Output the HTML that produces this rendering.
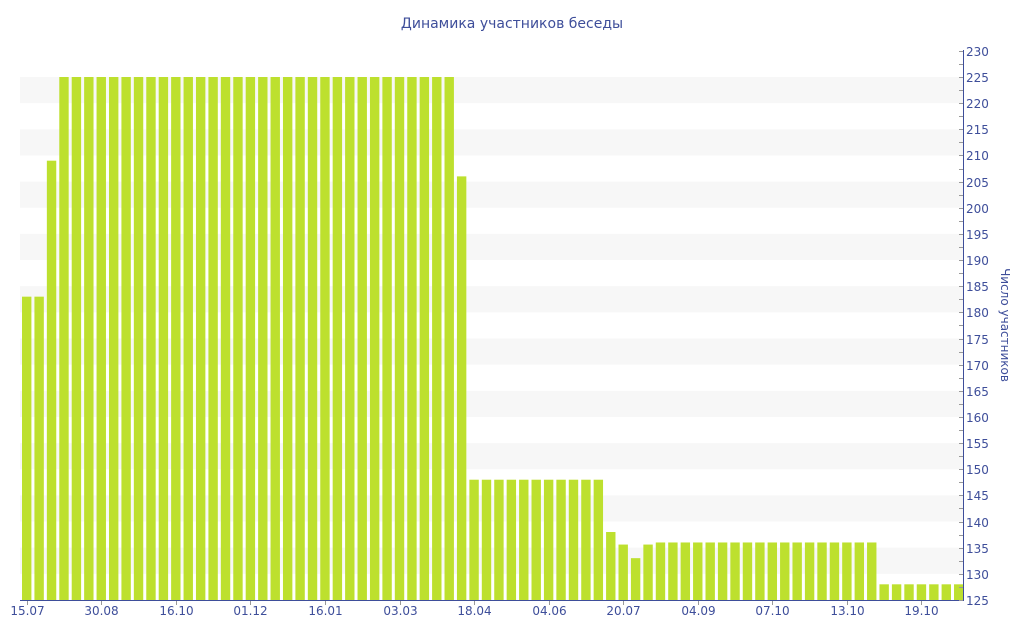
<!DOCTYPE html>
<html><head><meta charset="utf-8"><style>
html,body{margin:0;padding:0;background:#fff;width:1024px;height:640px;overflow:hidden}
svg{display:block;font-family:"DejaVu Sans","Liberation Sans",sans-serif}
</style></head><body>
<svg id="c" width="1024" height="640" xmlns="http://www.w3.org/2000/svg">
<text x="512" y="28" text-anchor="middle" font-size="14" fill="#3e4e9a">Динамика участников беседы</text>
<text transform="translate(1001,325) rotate(90)" text-anchor="middle" font-size="12" fill="#3e4e9a">Число участников</text>
<g id="g"></g>
</svg>
<script>
var g=document.getElementById('g'),s='';
function Y(v){return 600-(v-125)*5.23;}
for(var v=130;v<225;v+=10){s+='<rect x="20" y="'+Y(v+5)+'" width="943" height="'+(5*5.23)+'" fill="#f7f7f7"/>';}
var vals=[183,183,209];
for(var i=3;i<=34;i++)vals.push(225);
vals.push(206);
for(i=36;i<=46;i++)vals.push(148);
vals.push(138,135.6,133,135.6);
for(i=51;i<=68;i++)vals.push(136);
for(i=69;i<=75;i++)vals.push(128);
var p=12.427;
for(i=0;i<vals.length;i++){var x=22+i*p;s+='<rect x="'+x.toFixed(2)+'" y="'+Y(vals[i]).toFixed(2)+'" width="9.4" height="'+(600-Y(vals[i])).toFixed(2)+'" fill="#bde02e"/>';}
s+='<line x1="20" y1="600.5" x2="964" y2="600.5" stroke="#3e4e9a" stroke-width="1"/>';
s+='<line x1="963.5" y1="50" x2="963.5" y2="601" stroke="#3e4e9a" stroke-width="1"/>';
for(v=125;v<=230;v+=2.5){var y=Math.round(Y(v))+0.5;s+='<line x1="959" y1="'+y+'" x2="963" y2="'+y+'" stroke="#999"/>';
if(v%5==0)s+='<text x="966" y="'+(y+4.5)+'" font-size="12" fill="#3e4e9a">'+v+'</text>';}
var lab=['15.07','30.08','16.10','01.12','16.01','03.03','18.04','04.06','20.07','04.09','07.10','13.10','19.10'];
for(i=0;i<lab.length;i++){var x=Math.round(26.7+i*6*p)+0.5;s+='<line x1="'+x+'" y1="601" x2="'+x+'" y2="605" stroke="#999"/>';
s+='<text x="'+x+'" y="615" text-anchor="middle" font-size="12" fill="#3e4e9a">'+lab[i]+'</text>';}
g.innerHTML=s;
</script>
</body></html>
